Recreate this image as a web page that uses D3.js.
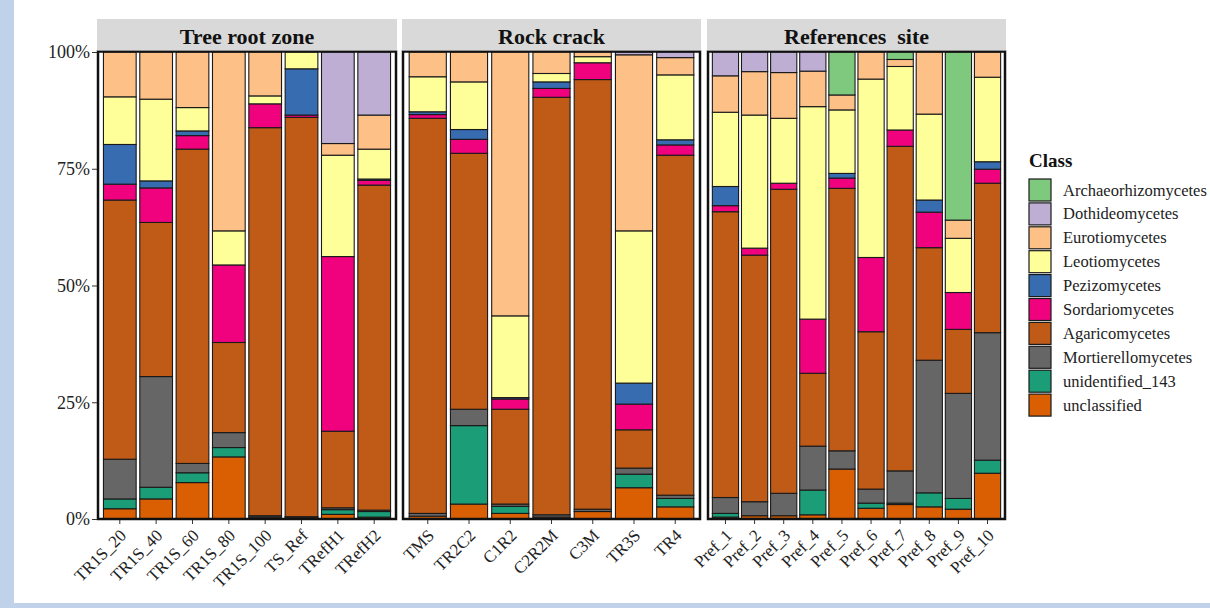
<!DOCTYPE html>
<html>
<head>
<meta charset="utf-8">
<script src="https://cdn.jsdelivr.net/npm/d3@7"></script>
<style>
  html, body { margin: 0; padding: 0; background: #ffffff; }
  svg { display: block; }
  text { font-family: "Liberation Serif", "Times New Roman", serif; }
</style>
</head>
<body>
<svg id="chart" width="1210" height="608"></svg>
<script>
// Facet groups and their samples
const groups = ["Tree root zone", "Rock crack", "References  site"];
const treeRootSamples = ["TR1S_20", "TR1S_40", "TR1S_60", "TR1S_80", "TR1S_100", "TS_Ref", "TRefH1", "TRefH2"];
const rockCrackSamples = ["TMS", "TR2C2", "C1R2", "C2R2M", "C3M", "TR3S", "TR4"];
const referenceSamples = ["Pref_1", "Pref_2", "Pref_3", "Pref_4", "Pref_5", "Pref_6", "Pref_7", "Pref_8", "Pref_9", "Pref_10"];

// Legend order (top of stack first)
const classes = ["Archaeorhizomycetes", "Dothideomycetes", "Eurotiomycetes", "Leotiomycetes",
  "Pezizomycetes", "Sordariomycetes", "Agaricomycetes", "Mortierellomycetes",
  "unidentified_143", "unclassified"];
const classColors = ["#7FC97F", "#BEAED4", "#FDC086", "#FFFF99", "#386CB0",
  "#F0027F", "#BF5B17", "#666666", "#1B9E77", "#D95F02"];

// Relative abundance (%) per class, samples in order: tree root zone, rock crack, references site
const archaeorhizomycetes = [0, 0, 0, 0, 0, 0, 0, 0,   0, 0, 0, 0, 0, 0, 0,   0, 0, 0, 0, 9.2, 0, 1.6, 0, 36.0, 0];
const dothideomycetes     = [0, 0, 0, 0, 0, 0, 19.6, 13.5,   0, 0, 0, 0, 0, 0.6, 1.2,   5.1, 4.2, 4.4, 4.1, 0, 0, 0, 0, 0, 0];
const eurotiomycetes      = [9.6, 10.1, 11.9, 38.3, 9.4, 0, 2.5, 7.3,   5.3, 6.4, 56.5, 4.6, 1.0, 37.7, 3.7,   7.8, 9.3, 9.8, 7.6, 3.2, 5.8, 1.5, 13.3, 3.9, 5.4];
const leotiomycetes       = [10.2, 17.5, 5.0, 7.3, 1.7, 3.6, 21.7, 6.4,   7.5, 10.2, 17.5, 1.8, 1.3, 32.6, 13.9,   15.9, 28.5, 13.9, 45.5, 13.6, 38.2, 13.6, 18.4, 11.6, 18.1];
const pezizomycetes       = [8.5, 1.5, 1.0, 0, 0, 9.9, 0, 0.3,   0.6, 2.1, 0.3, 1.4, 0, 4.5, 1.1,   4.1, 0, 0, 0, 1.0, 0, 0, 2.6, 0, 1.6];
const sordariomycetes     = [3.4, 7.4, 2.9, 16.6, 5.1, 0.5, 37.4, 1.0,   0.8, 3.0, 2.2, 1.9, 3.6, 5.5, 2.2,   1.3, 1.5, 1.3, 11.6, 2.2, 15.9, 3.5, 7.6, 7.9, 3.0];
const agaricomycetes      = [55.5, 33.0, 67.3, 19.3, 83.1, 85.5, 16.4, 69.6,   84.6, 54.8, 20.3, 89.4, 92.0, 8.2, 72.8,   61.2, 52.8, 65.1, 15.6, 56.2, 33.7, 69.5, 24.1, 13.7, 32.0];
const mortierellomycetes  = [8.5, 23.7, 2.0, 3.2, 0.3, 0.1, 0.4, 0.3,   0.6, 3.5, 0.5, 0.5, 0.5, 1.3, 0.7,   3.4, 3.0, 4.8, 9.4, 3.9, 3.0, 6.9, 28.4, 22.5, 27.3];
const unidentified143     = [2.1, 2.5, 2.1, 2.0, 0, 0, 1.0, 1.2,   0, 16.8, 1.5, 0, 0, 2.9, 1.8,   0.8, 0, 0, 5.3, 0, 1.1, 0.3, 3.0, 2.3, 2.8];
const unclassified        = [2.2, 4.3, 7.8, 13.3, 0.4, 0.4, 1.0, 0.4,   0.6, 3.2, 1.2, 0.4, 1.6, 6.7, 2.6,   0.4, 0.7, 0.7, 0.9, 10.7, 2.3, 3.1, 2.6, 2.1, 9.8];

const yTicks = [0, 0.25, 0.5, 0.75, 1];

// Assemble table rows
const classSeries = [archaeorhizomycetes, dothideomycetes, eurotiomycetes, leotiomycetes,
  pezizomycetes, sordariomycetes, agaricomycetes, mortierellomycetes, unidentified143, unclassified];
const groupSamples = [treeRootSamples, rockCrackSamples, referenceSamples];
const allSamples = groupSamples.flat();
const rows = allSamples.map((s, i) => {
  const r = { sample: s };
  classes.forEach((c, k) => { r[c] = classSeries[k][i]; });
  return r;
});

const svg = d3.select("#chart");
const W = 1210, H = 608;

// Page frame
svg.append("rect").attr("width", W).attr("height", H).attr("fill", "#ffffff");
svg.append("rect").attr("x", 0).attr("y", 0).attr("width", 14).attr("height", H).attr("fill", "#bfd2ea");
svg.append("rect").attr("x", 0).attr("y", 603).attr("width", W).attr("height", 5).attr("fill", "#bfd2ea");

const color = d3.scaleOrdinal().domain(classes).range(classColors);
const y = d3.scaleLinear().domain([0, 1]).range([519, 52]);

// Stack bottom-up: unclassified at the base, Archaeorhizomycetes on top
const stack = d3.stack().keys(classes.slice().reverse()).offset(d3.stackOffsetExpand);

const panelX = [[98, 396], [403, 700], [708, 1005]];
const stripTop = 19;

groups.forEach((g, gi) => {
  const samples = groupSamples[gi];
  const [x0, x1] = panelX[gi];
  const x = d3.scaleBand().domain(samples).range([x0, x1]).paddingInner(0.1).paddingOuter(0.15);
  const data = rows.filter(r => samples.includes(r.sample));
  const series = stack(data);

  const panel = svg.append("g");
  panel.append("rect").attr("x", x0).attr("y", y(1)).attr("width", x1 - x0).attr("height", y(0) - y(1))
    .attr("fill", "#ffffff");

  panel.selectAll("g.layer").data(series).join("g").attr("class", "layer")
    .attr("fill", d => color(d.key))
    .selectAll("rect").data(d => d).join("rect")
    .attr("x", d => x(d.data.sample))
    .attr("width", x.bandwidth())
    .attr("y", d => y(d[1]))
    .attr("height", d => Math.max(0, y(d[0]) - y(d[1])))
    .attr("stroke", "#1a1a1a")
    .attr("stroke-width", 1.1);

  // Panel border
  panel.append("rect").attr("x", x0).attr("y", y(1) - 0.5).attr("width", x1 - x0).attr("height", y(0) - y(1) + 0.5)
    .attr("fill", "none").attr("stroke", "#111").attr("stroke-width", 2.5);

  // Facet strip
  panel.append("rect").attr("x", x0 - 1).attr("y", stripTop).attr("width", x1 - x0 + 2).attr("height", y(1) - 1.5 - stripTop)
    .attr("fill", "#d9d9d9");
  panel.append("text").attr("x", (x0 + x1) / 2).attr("y", (stripTop + y(1)) / 2 + 1)
    .attr("text-anchor", "middle").attr("dominant-baseline", "central")
    .attr("font-size", 22).attr("font-weight", "bold").attr("fill", "#111")
    .style("white-space", "pre").text(g);

  // X axis
  const xAxis = d3.axisBottom(x).tickSize(4).tickSizeOuter(0).tickPadding(0).tickFormat("");
  const ax = panel.append("g").attr("transform", `translate(0,${y(0) + 1})`).call(xAxis);
  ax.select(".domain").remove();
  ax.selectAll(".tick line").attr("stroke", "#333").attr("stroke-width", 1);
  panel.selectAll("text.xlab").data(samples).join("text").attr("class", "xlab")
    .attr("transform", d => `translate(${x(d) + x.bandwidth() / 2 - 1},${y(0) + 9}) rotate(-45)`)
    .attr("text-anchor", "end").attr("dominant-baseline", "hanging")
    .attr("font-size", 17).attr("fill", "#222").text(d => d);
});

// Y axis
const yAxis = d3.axisLeft(y).tickValues(yTicks).tickSize(5).tickPadding(2).tickFormat(d3.format(".0%"));
const yg = svg.append("g").attr("transform", `translate(${panelX[0][0] - 1},0)`).call(yAxis);
yg.select(".domain").remove();
yg.selectAll(".tick line").attr("stroke", "#333");
yg.selectAll(".tick text").attr("font-size", 18).attr("fill", "#222")
  .attr("font-family", "Liberation Serif, Times New Roman, serif");

// Legend
const legend = svg.append("g").attr("transform", "translate(1029,0)");
legend.append("text").attr("x", 0).attr("y", 167).attr("font-size", 19).attr("font-weight", "bold")
  .attr("fill", "#111").text("Class");
const keyStep = 23.9;
const items = legend.selectAll("g.item").data(classes).join("g").attr("class", "item")
  .attr("transform", (d, i) => `translate(0,${179 + i * keyStep})`);
items.append("rect").attr("width", 22).attr("height", 22)
  .attr("fill", d => color(d)).attr("stroke", "#1a1a1a").attr("stroke-width", 1.2);
items.append("text").attr("x", 34).attr("y", 11).attr("dominant-baseline", "central")
  .attr("font-size", 16.5).attr("fill", "#222").text(d => d);
</script>
</body>
</html>
